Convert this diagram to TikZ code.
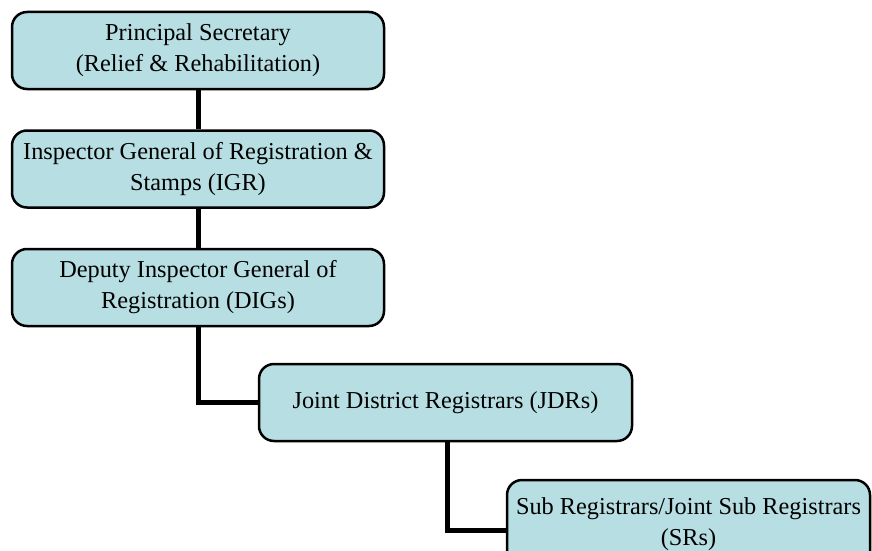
\documentclass[tikz,border=0pt]{standalone}
\usepackage{fontspec}
\setmainfont{Liberation Serif}
\usetikzlibrary{positioning}
\tikzset{>=latex}

\begin{document}
\begin{tikzpicture}[x=1pt, y=-1pt, node distance=39pt, font=\fontsize{24.3}{31}\selectfont]
		\definecolor{boxcolor}{RGB}{183,222,226}
		\tikzset{orgbox/.style={draw,line width=2.5pt,rounded corners=15pt,fill=boxcolor,align=center,minimum width=372pt,minimum height=77pt,inner sep=2pt}}
		\tikzset{link/.style={line width=5pt}}
		\useasboundingbox (0,0) rectangle (872,551);

		% Top of the chain
		\node[orgbox] (ps) at (198,50.5) {Principal Secretary\\(Relief \& Rehabilitation)};
		\node[orgbox,below=of ps] (igr) {Inspector General of Registration \&\\Stamps (IGR)};
		\node[orgbox,below=of igr] (dig) {Deputy Inspector General of\\Registration (DIGs)};

		% Lower levels, set off to the right
		\node[orgbox,minimum width=373pt] (jdr) at (445.5,402.5) {Joint District Registrars (JDRs)};
		\node[orgbox,minimum width=363pt,minimum height=88pt] (sr) at (688.5,524) {Sub Registrars/Joint Sub Registrars\\(SRs)};

		\draw[link] (ps) -- (igr);
		\draw[link] (igr) -- (dig);
		\draw[link] (dig.south) |- (jdr.west);
		\draw[link] ([xshift=1.5pt]jdr.south) |- ([yshift=-6pt]sr.west);
	\end{tikzpicture}
\end{document}
